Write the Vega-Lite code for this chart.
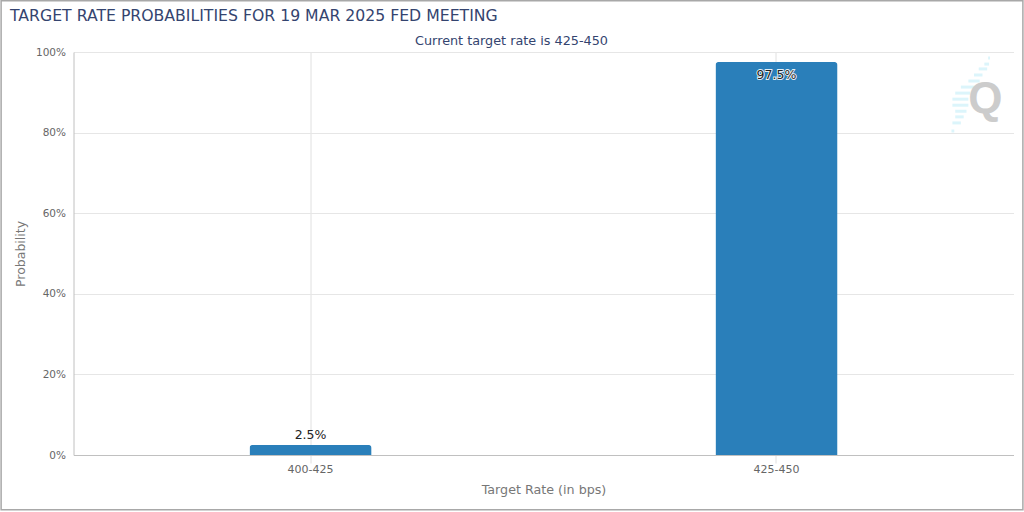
{
"$schema":"https://vega.github.io/schema/vega-lite/v6.json",
"autosize":"none",
"width":940,"height":403,
"padding":{"left":73.5,"top":52,"right":10.5,"bottom":57},
"background":"white",
"title":{"text":"TARGET RATE PROBABILITIES FOR 19 MAR 2025 FED MEETING","anchor":"start","frame":"group","dx":-63.5,"dy":25,"offset":0,"font":"DejaVu Sans","fontSize":15.7,"fontWeight":"normal","color":"#34446f"},
"config":{"font":"DejaVu Sans","view":{"stroke":null}},
"datasets":{
"bars":[{"rate":"400-425","prob":2.5,"label":"2.5%"},{"rate":"425-450","prob":97.5,"label":"97.5%"}],
"stripes":[
{"x":97.3,"x2":97.5,"y":98.5},{"x":96.9,"x2":97.4,"y":97},{"x":96.3,"x2":97.2,"y":95.8},{"x":95.8,"x2":96.7,"y":94.3},{"x":95.2,"x2":96.4,"y":92.8},{"x":94.4,"x2":96.0,"y":91.3},{"x":93.8,"x2":95.4,"y":89.8},{"x":93.5,"x2":95.2,"y":88.3},{"x":93.5,"x2":95.2,"y":86.8},{"x":93.8,"x2":95.0,"y":85.3},{"x":93.8,"x2":94.7,"y":83.9},{"x":93.5,"x2":94.4,"y":82.4},{"x":93.4,"x2":93.7,"y":80.4}],
"frame":[{"x":-7.7,"x2":101.0,"y":112.7,"y2":-13.6}],
"notes":[{"x":46.6,"y":102.7,"t":"Current target rate is 425-450"}],
"logo":[{"x":97,"y":88.0,"t":"Q"}]
},
"layer":[
{"data":{"name":"frame"},"mark":{"type":"rect","fill":null,"stroke":"#a8a8a8","strokeWidth":1.5},
 "encoding":{"x":{"field":"x","type":"quantitative","scale":{"domain":[0,100]},"axis":null},"x2":{"field":"x2"},"y":{"field":"y","type":"quantitative"},"y2":{"field":"y2"}}},
{"data":{"name":"stripes"},"mark":{"type":"rule","stroke":"#dcf5fb","strokeWidth":3},
 "encoding":{"x":{"field":"x","type":"quantitative","scale":{"domain":[0,100]},"axis":null},"x2":{"field":"x2"},"y":{"field":"y","type":"quantitative"}}},
{"data":{"name":"logo"},"mark":{"type":"text","font":"Liberation Sans","fontWeight":"bold","fontSize":44,"color":"#cccccc","baseline":"middle","align":"center"},
 "encoding":{"x":{"field":"x","type":"quantitative","scale":{"domain":[0,100]},"axis":null},"y":{"field":"y","type":"quantitative"},"text":{"field":"t"}}},
{"data":{"name":"notes"},"mark":{"type":"text","fontSize":12.8,"color":"#34446f","baseline":"middle","align":"center"},
 "encoding":{"x":{"field":"x","type":"quantitative","scale":{"domain":[0,100]},"axis":null},"y":{"field":"y","type":"quantitative"},"text":{"field":"t"}}},
{"data":{"name":"bars"},"layer":[
 {"mark":{"type":"bar","color":"#2a7fba","cornerRadiusTopLeft":3,"cornerRadiusTopRight":3},
 "encoding":{
 "x":{"field":"rate","type":"nominal","sort":null,"scale":{"type":"band","paddingInner":0.738,"paddingOuter":0.3777},
   "axis":{"title":"Target Rate (in bps)","titleFont":"DejaVu Sans","titleFontSize":12.7,"titleFontWeight":"normal","titleColor":"#777777","titlePadding":9,"labelAngle":0,"labelFontSize":11,"labelColor":"#666666","labelPadding":0,"tickSize":8,"tickColor":"#e0e0e0","domainColor":"#c0c0c0","domainWidth":1,"grid":true,"gridColor":"#e0e0e0","zindex":0}},
 "y":{"field":"prob","type":"quantitative","scale":{"domain":[0,100]},
   "axis":{"title":"Probability","titleFontSize":12.5,"titleFontWeight":"normal","titleColor":"#777777","titlePadding":8,"values":[0,20,40,60,80,100],"labelExpr":"datum.value + '%'","labelFontSize":10.5,"labelColor":"#666666","labelPadding":8,"ticks":false,"domainColor":"#c0c0c0","grid":true,"gridColor":"#e6e6e6"}}
 }},
 {"transform":[{"filter":"datum.prob < 50"}],"mark":{"type":"text","fontSize":12.5,"color":"#222222","baseline":"bottom","dy":-3},
  "encoding":{"x":{"field":"rate","type":"nominal","sort":null},"y":{"field":"prob","type":"quantitative"},"text":{"field":"label"}}},
 {"transform":[{"filter":"datum.prob > 50"}],"mark":{"type":"text","fontSize":12.5,"fill":"#ffffff","stroke":"#ffffff","strokeWidth":1.8,"strokeOpacity":0.9,"baseline":"top","dy":7},
  "encoding":{"x":{"field":"rate","type":"nominal","sort":null},"y":{"field":"prob","type":"quantitative"},"text":{"field":"label"}}},
 {"transform":[{"filter":"datum.prob > 50"}],"mark":{"type":"text","fontSize":12.5,"fill":"#222222","baseline":"top","dy":7},
  "encoding":{"x":{"field":"rate","type":"nominal","sort":null},"y":{"field":"prob","type":"quantitative"},"text":{"field":"label"}}}
]}
],
"resolve":{"scale":{"x":"independent"}}
}
